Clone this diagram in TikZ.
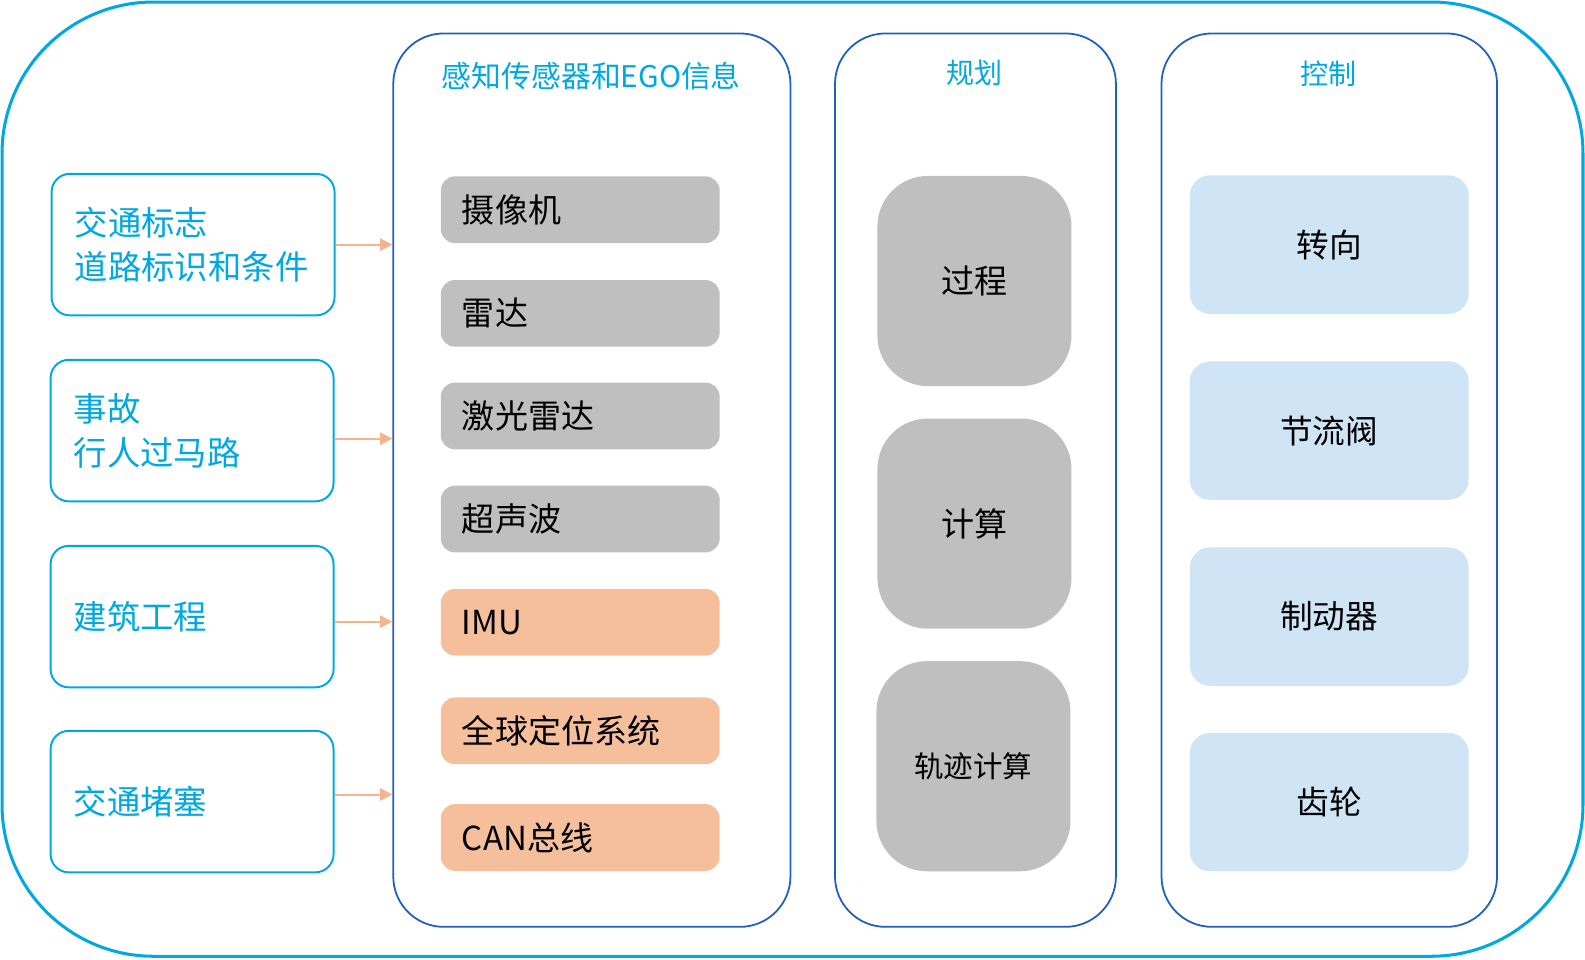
\documentclass[tikz,border=0pt]{standalone}
\usepackage{fontspec}
\setmainfont{Noto Sans CJK SC}
\usetikzlibrary{arrows.meta}
\definecolor{FrameCyan}{HTML}{00A8E1}
\definecolor{ColBlue}{HTML}{1F5FBE}
\definecolor{SensGray}{HTML}{BFBFBF}
\definecolor{SensOrange}{HTML}{F5BF9B}
\definecolor{CtrlBlue}{HTML}{CFE4F4}
\definecolor{ArrowOrange}{HTML}{F4B48C}

\begin{document}
\begin{tikzpicture}[x=0.02cm, y=-0.02cm, >={Triangle[length=0.24cm,width=0.24cm]},
    src/.style={draw=FrameCyan, line width=1.1pt, rounded corners=0.36cm,
      minimum width=5.6cm, minimum height=2.8cm, text width=4.68cm,
      inner xsep=0.46cm, align=left, text=FrameCyan,
      font=\fontsize{18.8}{25}\selectfont},
    column/.style={draw=ColBlue, line width=1pt, rounded corners=1cm,
      minimum height=17.68cm},
    coltitle/.style={text=FrameCyan, font=\fontsize{15.8}{18}\selectfont},
    sensor/.style={fill=SensGray, rounded corners=0.28cm,
      minimum width=5.52cm, minimum height=1.32cm, text width=4.68cm,
      inner xsep=0.42cm, align=left, font=\fontsize{18.6}{22}\selectfont},
    plan/.style={fill=SensGray, rounded corners=1cm,
      minimum width=3.84cm, minimum height=4.16cm,
      font=\fontsize{18.6}{22}\selectfont},
    ctrl/.style={fill=CtrlBlue, rounded corners=0.4cm,
      minimum width=5.52cm, minimum height=2.74cm,
      font=\fontsize{18.4}{22}\selectfont},
    feed/.style={->, line width=1.1pt, ArrowOrange}]
  \useasboundingbox (0,0) rectangle (1568,949);
  % outer frame
  \draw[FrameCyan, line width=1.7pt, rounded corners=3cm] (2,2) rectangle (1566,946);

  % left: scenarios
  \node[src] (sign) at (191,242) {交通标志\\道路标识和条件};
  \node[src] (accident) at (190,426) {事故\\行人过马路};
  \node[src] (works) at (190,610) {建筑工程};
  \node[src] (jam) at (190,793) {交通堵塞};

  % columns
  \node[column, minimum width=7.86cm] (perc) at (585.5,475) {};
  \node[column, minimum width=5.56cm] (planning) at (965,475) {};
  \node[column, minimum width=6.64cm] (control) at (1315,475) {};
  \node[coltitle, font=\fontsize{16.8}{18}\selectfont] (perctitle) at (585,75) {感知传感器和EGO信息};
  \node[coltitle] (plantitle) at (964,72) {规划};
  \node[coltitle] (ctrltitle) at (1314,73) {控制};

  % sensors
  \node[sensor] (camera) at (574,207.5) {摄像机};
  \node[sensor] (radar) at (574,310) {雷达};
  \node[sensor] (lidar) at (574,411.5) {激光雷达};
  \node[sensor] (sonar) at (574,513.5) {超声波};
  \node[sensor, fill=SensOrange] (imu) at (574,615.5) {IMU};
  \node[sensor, fill=SensOrange] (gps) at (574,723) {全球定位系统};
  \node[sensor, fill=SensOrange] (can) at (574,828.5) {CAN总线};

  % planning
  \node[plan] (process) at (964,278) {过程};
  \node[plan] (compute) at (964,518) {计算};
  \node[plan, font=\fontsize{16.6}{20}\selectfont] (traj) at (963,758) {轨迹计算};

  % control
  \node[ctrl] (steer) at (1315,242) {转向};
  \node[ctrl] (throttle) at (1315,426) {节流阀};
  \node[ctrl] (brake) at (1315,610) {制动器};
  \node[ctrl] (gear) at (1315,793.5) {齿轮};

  % inputs
  \draw[feed] (sign.east) -- (sign.east -| perc.west);
  \draw[feed] ([yshift=-0.16cm]accident.east) -- ([yshift=-0.16cm]accident.east -| perc.west);
  \draw[feed] ([yshift=-0.1cm]works.east) -- ([yshift=-0.1cm]works.east -| perc.west);
  \draw[feed] ([yshift=0.14cm]jam.east) -- ([yshift=0.14cm]jam.east -| perc.west);
\end{tikzpicture}
\end{document}
